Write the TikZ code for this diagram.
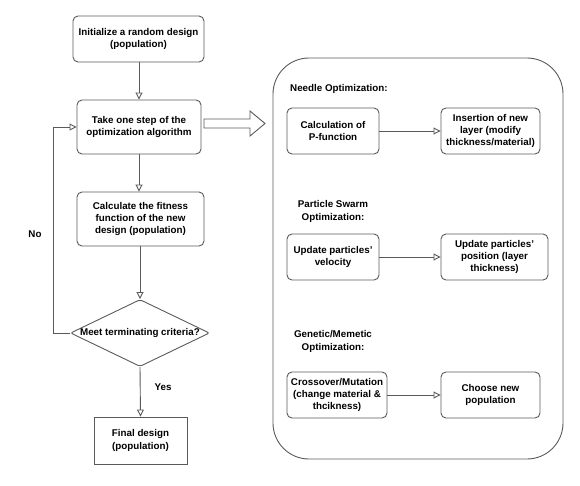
\documentclass[tikz,border=0pt]{standalone}
\usepackage{fontspec}
\setmainfont{Liberation Sans}
\usetikzlibrary{arrows.meta,shapes.geometric}
\definecolor{ln}{HTML}{5A5A5A}
\tikzset{
  box/.style={draw=ln, line width=0.9pt, rounded corners=5pt, align=center, inner sep=1pt, font=\fontsize{9.8}{12.3}\selectfont\bfseries},
  sbox/.style={box, rounded corners=0pt},
  dia/.style={draw=ln, line width=0.9pt, diamond, rounded corners=2pt, inner sep=0pt},
  lab/.style={align=center, inner sep=0pt, font=\fontsize{9.8}{12.3}\selectfont\bfseries},
  arr/.style={draw=ln, line width=0.9pt, -{Triangle[open,length=7pt,width=7pt]}},
}
\begin{document}
\begin{tikzpicture}[x=1pt,y=-1pt]
\useasboundingbox (0,0) rectangle (580,485);
% left flow
\node[box, minimum width=131pt, minimum height=46pt] (b1) at (138.5,39) {Initialize a random design\\(population)};
\node[box, minimum width=124pt, minimum height=54pt] (b2) at (139,127) {Take one step of the\\optimization algorithm};
\node[box, minimum width=127pt, minimum height=54pt] (b3) at (140.5,219) {Calculate the fitness\\function of the new\\design (population)};
\node[dia, minimum width=139pt, minimum height=67pt] (d) at (140,333) {};
\node[lab] (dt) at (d.center) {Meet terminating criteria?};
\node[sbox, minimum width=93pt, minimum height=47pt] (f) at (140.5,440.5) {Final design\\(population)};
\coordinate (lx) at (53,0);
\draw[arr] (b1.south -| 139,0) -- (b2.north -| 139,0);
\draw[arr] (b2.south -| 139,0) -- (b3.north -| 139,0);
\draw[arr] (b3.south -| 140,0) -- (d.north);
\draw[arr] (d.south) -- (f.north);
\draw[arr] (d.west) -- (d.west -| lx) |- (b2.west);
\node[lab] (no) at (35,234) {No};
\node[lab] (yes) at (163,387) {Yes};
% big hollow arrow
\draw[draw=ln, line width=0.9pt, line join=miter] (204,119) -- (250,119) -- (250,111) -- (265,123.5) -- (250,136) -- (250,128) -- (204,128) -- cycle;
% container
\draw[draw=ln, line width=0.9pt, rounded corners=36pt] (273,58) rectangle (563,459);
% needle
\node[lab, anchor=west] (nl) at (290,89) {Needle Optimization:};
\node[box, minimum width=92pt, minimum height=46pt] (p) at (333,131) {Calculation of\\P-function};
\node[box, minimum width=99pt, minimum height=46pt] (ins) at (490.5,131) {Insertion of new\\layer (modify\\thickness/material)};
\draw[arr] (p) -- (ins);
% PSO
\node[lab] (pl) at (333,211.5) {Particle Swarm\\Optimization:};
\node[box, minimum width=92pt, minimum height=46pt] (v) at (333,257) {Update particles'\\velocity};
\node[box, minimum width=107pt, minimum height=46pt] (pos) at (494.5,257) {Update particles'\\position (layer\\thickness)};
\draw[arr] (v) -- (pos);
% GA
\node[lab] (gl) at (333,341.5) {Genetic/Memetic\\Optimization:};
\node[box, minimum width=100pt, minimum height=46pt] (c) at (337,395) {Crossover/Mutation\\(change material \&\\thcikness)};
\node[box, minimum width=99pt, minimum height=46pt] (ch) at (490.5,395) {Choose new\\population};
\draw[arr] (c) -- (ch);
\end{tikzpicture}
\end{document}
